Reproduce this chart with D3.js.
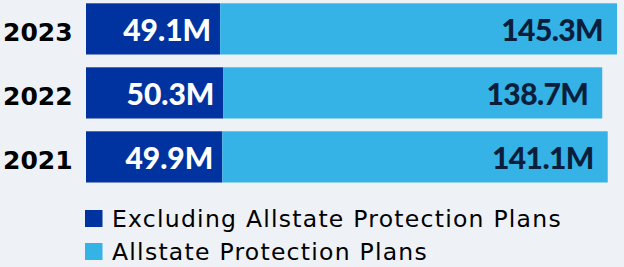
<!DOCTYPE html>
<html>
<head>
<meta charset="utf-8">
<script src="https://cdn.jsdelivr.net/npm/d3@7"></script>
<style>
  html, body { margin: 0; padding: 0; background: #eef1f5; }
  svg { display: block; }
</style>
</head>
<body>
<div id="chart"></div>
<script>
// ==================== données ====================//
const years = ["2023", "2022", "2021"];
const excluding = [49.1, 50.3, 49.9];      // hors Allstate Protection Plans
const protection = [145.3, 138.7, 141.1];  // Allstate Protection Plans
const seriesNames = ["Excluding Allstate Protection Plans", "Allstate Protection Plans"];

const width = 624;
const height = 267;
const darkBlue = "#0033a0";
const lightBlue = "#35b3e6";

const svg = d3.select("#chart")
    .append("svg")
    .attr("width", width)
    .attr("height", height);

const totals = years.map((y, i) => excluding[i] + protection[i]);

const x = d3.scaleLinear()
    .domain([0, d3.max(totals)])
    .range([86, 617]);

const y = d3.scaleBand()
    .domain(years)
    .range([-3.1, 188.9])
    .paddingInner(0.2)
    .paddingOuter(0.1);

const rows = years.map((yr, i) => ({ year: yr, a: excluding[i], b: protection[i] }));

const g = svg.selectAll("g.row")
    .data(rows)
    .enter()
    .append("g")
    .attr("class", "row");

// barres foncées
g.append("rect")
    .attr("x", x(0))
    .attr("y", d => y(d.year))
    .attr("width", d => x(d.a) - x(0))
    .attr("height", y.bandwidth())
    .attr("fill", darkBlue);

// barres claires
g.append("rect")
    .attr("x", d => x(d.a))
    .attr("y", d => y(d.year))
    .attr("width", d => x(d.a + d.b) - x(d.a))
    .attr("height", y.bandwidth())
    .attr("fill", lightBlue);

// années
g.append("text")
    .attr("x", 3)
    .attr("y", d => y(d.year) + y.bandwidth() / 2 + 12.5)
    .attr("font-family", "DejaVu Sans, sans-serif")
    .attr("font-weight", 700)
    .attr("font-size", 25)
    .attr("fill", "#000")
    .text(d => d.year);

// valeurs
g.append("text")
    .attr("x", d => x(d.a) - 9)
    .attr("y", d => y(d.year) + y.bandwidth() / 2 + 12)
    .attr("text-anchor", "end")
    .attr("font-family", "Lato, sans-serif")
    .attr("font-weight", 900)
    .attr("font-size", 30)
    .attr("fill", "#fff")
    .text(d => d.a.toFixed(1) + "M");

g.append("text")
    .attr("x", d => x(d.a + d.b) - 14)
    .attr("y", d => y(d.year) + y.bandwidth() / 2 + 12)
    .attr("text-anchor", "end")
    .attr("font-family", "Lato, sans-serif")
    .attr("font-weight", 900)
    .attr("font-size", 30)
    .attr("letter-spacing", -0.6)
    .attr("fill", "#0b1f3d")
    .text(d => d.b.toFixed(1) + "M");

// légende
const legend = svg.selectAll("g.legend")
    .data(seriesNames)
    .enter()
    .append("g")
    .attr("class", "legend")
    .attr("transform", (d, i) => `translate(85, ${210 + i * 33})`);

legend.append("rect")
    .attr("width", 17.5)
    .attr("height", 17)
    .attr("fill", (d, i) => i === 0 ? darkBlue : lightBlue);

legend.append("text")
    .attr("x", 27)
    .attr("y", 17)
    .attr("font-family", "DejaVu Sans, sans-serif")
    .attr("font-size", 23.5)
    .attr("letter-spacing", 1.25)
    .attr("fill", "#000")
    .text(d => d);
</script>
</body>
</html>
